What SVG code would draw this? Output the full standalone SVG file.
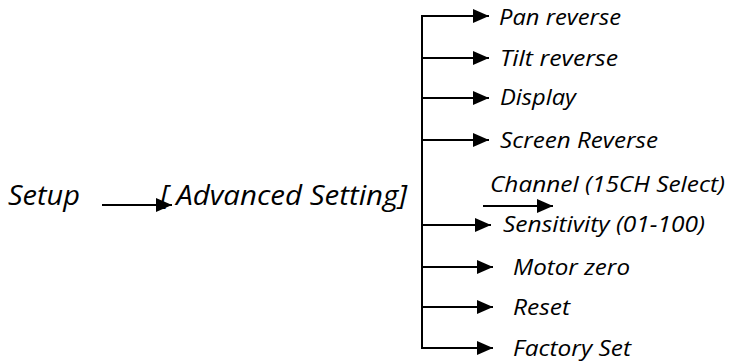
<svg xmlns="http://www.w3.org/2000/svg" width="730" height="363" viewBox="0 0 730 363">
<style>
text{font-family:"Open Sans","Liberation Sans",sans-serif;font-style:italic;font-weight:400;font-size:22px;fill:#000}
text.big{font-size:28px}
.c line{stroke:#000;stroke-width:2;fill:none}
</style>
<defs>
<marker id="ah" viewBox="0 0 16 14" refX="16" refY="7" markerWidth="16" markerHeight="14" markerUnits="userSpaceOnUse" orient="auto">
<path d="M0,0 L16,7 L0,14 Z" fill="#000"/>
</marker>
</defs>
<rect width="730" height="363" fill="#fff"/>
<g id="setup"><text class="big" x="8" y="205" textLength="72" lengthAdjust="spacingAndGlyphs">Setup</text></g>
<g id="advanced"><text class="big" x="160" y="205" textLength="247" lengthAdjust="spacingAndGlyphs">[ Advanced Setting]</text></g>
<g id="pan"><text x="499" y="25" textLength="122" lengthAdjust="spacingAndGlyphs">Pan reverse</text></g>
<g id="tilt"><text x="500" y="66" textLength="118" lengthAdjust="spacingAndGlyphs">Tilt reverse</text></g>
<g id="display"><text x="500" y="105" textLength="76" lengthAdjust="spacingAndGlyphs">Display</text></g>
<g id="screen"><text x="500" y="148" textLength="158" lengthAdjust="spacingAndGlyphs">Screen Reverse</text></g>
<g id="channel"><text x="490" y="192" textLength="235" lengthAdjust="spacingAndGlyphs">Channel (15CH Select)</text></g>
<g id="sensitivity"><text x="503" y="232" textLength="202" lengthAdjust="spacingAndGlyphs">Sensitivity (01-100)</text></g>
<g id="motor"><text x="513" y="275" textLength="117" lengthAdjust="spacingAndGlyphs">Motor zero</text></g>
<g id="reset"><text x="513" y="315" textLength="57" lengthAdjust="spacingAndGlyphs">Reset</text></g>
<g id="factory"><text x="513" y="356" textLength="118" lengthAdjust="spacingAndGlyphs">Factory Set</text></g>
<g id="connectors" class="c">
<line x1="102" y1="205" x2="172" y2="205" marker-end="url(#ah)"/>
<line x1="422" y1="16" x2="422" y2="349"/>
<line x1="421" y1="16" x2="489" y2="16" marker-end="url(#ah)"/>
<line x1="422" y1="58" x2="489" y2="58" marker-end="url(#ah)"/>
<line x1="422" y1="98" x2="489" y2="98" marker-end="url(#ah)"/>
<line x1="422" y1="140" x2="489" y2="140" marker-end="url(#ah)"/>
<line x1="483" y1="206" x2="553" y2="206" marker-end="url(#ah)"/>
<line x1="422" y1="225" x2="491" y2="225" marker-end="url(#ah)"/>
<line x1="422" y1="267" x2="493" y2="267" marker-end="url(#ah)"/>
<line x1="422" y1="307" x2="493" y2="307" marker-end="url(#ah)"/>
<line x1="421" y1="348" x2="493" y2="348" marker-end="url(#ah)"/>
</g>
</svg>
